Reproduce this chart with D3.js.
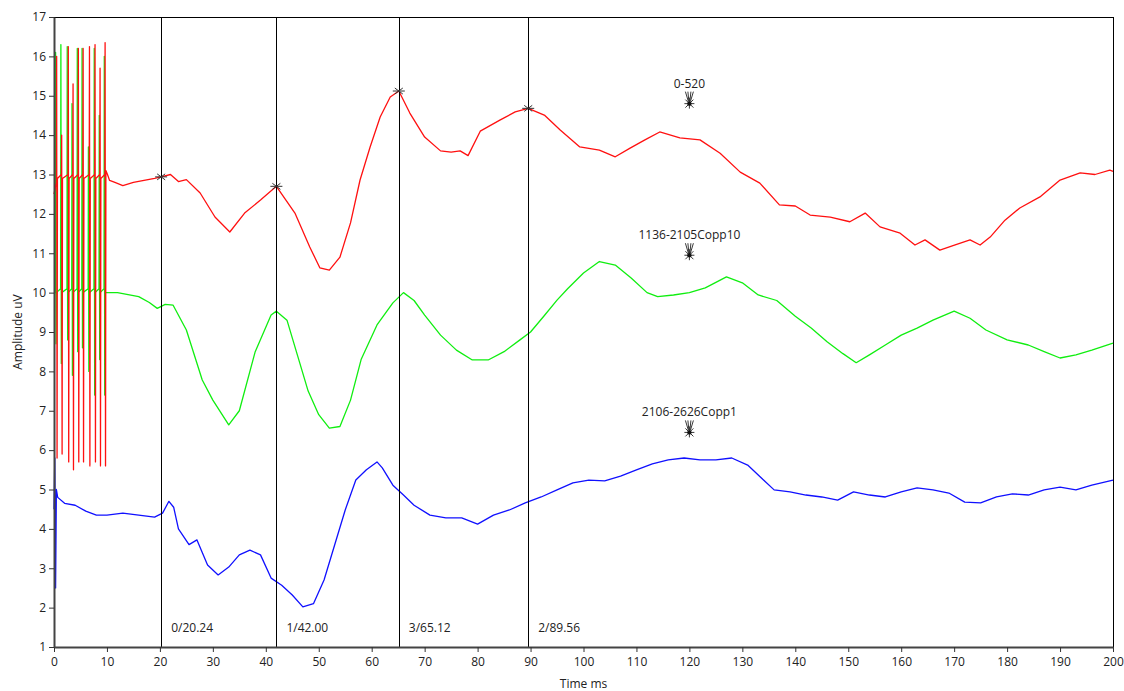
<!DOCTYPE html>
<html>
<head>
<meta charset="utf-8">
<script src="https://cdn.jsdelivr.net/npm/d3@7"></script>
<style>
  html, body { margin: 0; padding: 0; background: #ffffff; }
  #chart { width: 1124px; height: 691px; }
  text { font-family: "Open Sans", "Noto Sans", sans-serif; }
</style>
</head>
<body>
<div id="chart"></div>
<script>
// [time ms, amplitude uV]
const redTrace = [
  [0, 12.5], [0.45, 12.8], [0.5, 16.0], [0.58, 5.8], [0.65, 12.9],
  [1.4, 13.0], [1.45, 14.0], [1.53, 5.9], [1.6, 12.9],
  [2.65, 13.0], [2.7, 16.25], [2.78, 5.7], [2.85, 12.9],
  [3.55, 13.0], [3.6, 15.3], [3.68, 5.5], [3.75, 12.9],
  [4.55, 13.0], [4.6, 16.2], [4.68, 5.7], [4.75, 12.9],
  [5.45, 13.0], [5.5, 16.2], [5.58, 5.7], [5.65, 12.9],
  [6.65, 13.0], [6.7, 16.25], [6.78, 5.6], [6.85, 12.9],
  [7.7, 13.0], [7.75, 16.3], [7.83, 5.7], [7.9, 12.9],
  [8.65, 13.0], [8.7, 15.7], [8.78, 5.6], [8.85, 12.9],
  [9.6, 13.0], [9.65, 16.35], [9.73, 5.6], [9.8, 13.1], [10.1, 13.0],
  [10.5, 12.85], [11.5, 12.8], [13, 12.72], [15, 12.8], [17, 12.85], [19, 12.9], [20.24, 12.94],
  [22, 13.0], [23.5, 12.82], [25, 12.87], [27.6, 12.53], [30.4, 11.92], [33.2, 11.54], [36, 12.02],
  [39, 12.35], [42, 12.7], [45.5, 12.02], [48.3, 11.16], [50.2, 10.63], [52, 10.57], [54, 10.9],
  [56, 11.77], [57.8, 12.86], [59.7, 13.7], [61.6, 14.46], [63.5, 14.97], [65.12, 15.12], [67.2, 14.56],
  [70, 13.95], [73, 13.6], [75, 13.57], [76.7, 13.6], [78.2, 13.48], [80.5, 14.1], [84.2, 14.38],
  [87.1, 14.59], [89.56, 14.68], [92.7, 14.5], [95.6, 14.13], [99.3, 13.7], [103, 13.62], [106, 13.45],
  [108.8, 13.67], [111.6, 13.88], [114.4, 14.08], [118.2, 13.93], [122, 13.88], [125.8, 13.54],
  [129.6, 13.06], [133.3, 12.78], [137, 12.23], [140, 12.2], [142.8, 11.97], [146.6, 11.92],
  [150.3, 11.8], [153.2, 12.02], [156, 11.67], [159.8, 11.51], [162.6, 11.21], [164.5, 11.34],
  [167.3, 11.08], [170.2, 11.21], [173, 11.34], [174.9, 11.21], [176.8, 11.41], [179.6, 11.84],
  [182.4, 12.15], [186.2, 12.43], [190, 12.86], [193.8, 13.04], [196.6, 13.0], [199.4, 13.11], [200, 13.08]
];

const greenTrace = [
  [0, 10.0], [0.25, 10.0], [0.3, 16.1], [0.38, 8.7], [0.45, 10.0],
  [1.25, 10.1], [1.3, 16.3], [1.38, 8.2], [1.45, 10.0],
  [2.45, 10.1], [2.5, 16.25], [2.58, 8.8], [2.65, 10.0],
  [3.35, 10.1], [3.4, 14.8], [3.48, 7.9], [3.55, 10.0],
  [4.35, 10.1], [4.4, 16.2], [4.48, 8.5], [4.55, 10.0],
  [5.25, 10.1], [5.3, 16.2], [5.38, 8.6], [5.45, 10.0],
  [6.45, 10.1], [6.5, 13.7], [6.58, 8.0], [6.65, 10.0],
  [7.55, 10.1], [7.6, 16.2], [7.68, 7.4], [7.75, 10.0],
  [8.5, 10.1], [8.55, 14.5], [8.63, 8.3], [8.7, 10.0],
  [9.45, 10.1], [9.5, 16.0], [9.58, 7.4], [9.65, 10.0],
  [10.5, 10.0], [12, 10.0], [14, 9.95], [16, 9.9], [18, 9.75], [19.5, 9.6], [21, 9.7], [22.5, 9.68],
  [25, 9.05], [28, 7.78], [30, 7.27], [33, 6.64], [35, 7.0], [38, 8.5], [41, 9.43], [42, 9.53],
  [44, 9.3], [46, 8.4], [48, 7.5], [50, 6.9], [52, 6.56], [54, 6.6], [56, 7.27], [58, 8.3], [61, 9.18],
  [64, 9.74], [66, 10.0], [68, 9.8], [70, 9.43], [73, 8.92], [76, 8.54], [79, 8.29], [82, 8.29],
  [85, 8.5], [88, 8.8], [90, 9.0], [92.5, 9.4], [95, 9.81], [97, 10.1], [100, 10.5], [103, 10.79],
  [106, 10.7], [109, 10.37], [112, 10.0], [114, 9.9], [117, 9.94], [120, 10.0], [123, 10.12],
  [127, 10.4], [130, 10.25], [133, 9.94], [136.5, 9.8], [140, 9.4], [143, 9.1], [146, 8.75],
  [149, 8.45], [151.5, 8.22], [154, 8.42], [157, 8.67], [160, 8.92], [163, 9.1], [166, 9.3],
  [170, 9.53], [173, 9.35], [176, 9.05], [180, 8.8], [184, 8.67], [187, 8.5], [190, 8.34],
  [193, 8.42], [196, 8.54], [200, 8.72]
];

const blueTrace = [
  [0, 4.5], [0.15, 5.8], [0.3, 2.5], [0.45, 5.0], [0.7, 4.8], [2, 4.65], [4, 4.6], [6, 4.45],
  [8, 4.35], [10, 4.35], [13, 4.4], [16, 4.35], [19, 4.3], [20.5, 4.4], [21.7, 4.7], [22.6, 4.55],
  [23.5, 4.0], [25.5, 3.6], [27, 3.72], [29, 3.08], [31, 2.83], [33, 3.03], [35, 3.34], [37, 3.46],
  [39, 3.34], [41, 2.75], [43, 2.57], [45, 2.32], [47, 2.02], [49, 2.1], [51, 2.7], [53, 3.59],
  [55, 4.48], [57, 5.24], [59, 5.5], [61, 5.7], [62, 5.55], [64, 5.11], [66, 4.86], [68, 4.6],
  [71, 4.35], [74, 4.28], [77, 4.28], [80, 4.12], [83, 4.35], [86, 4.48], [89, 4.66], [92, 4.81],
  [95, 4.99], [98, 5.17], [101, 5.24], [104, 5.22], [107, 5.34], [110, 5.5], [113, 5.65], [116, 5.75],
  [119, 5.8], [122, 5.75], [125, 5.75], [128, 5.8], [131, 5.62], [134, 5.24], [136, 4.99], [139, 4.94],
  [142, 4.86], [145, 4.81], [148, 4.73], [151, 4.94], [154, 4.86], [157, 4.81], [160, 4.94],
  [163, 5.04], [166, 4.99], [169, 4.91], [172, 4.68], [175, 4.66], [178, 4.81], [181, 4.89],
  [184, 4.86], [187, 4.99], [190, 5.06], [193, 4.99], [196, 5.11], [200, 5.24]
];

const cursorTimes = [20.24, 42.00, 65.12, 89.56];
const cursorLabels = ["0/20.24", "1/42.00", "3/65.12", "2/89.56"];
const cursorValues = [12.94, 12.7, 15.12, 14.68];

const traceLabels = ["0-520", "1136-2105Copp10", "2106-2626Copp1"];
const labelTimes = [120, 120, 120];
const labelValues = [14.8, 10.95, 6.45];

const xTicks = d3.range(0, 201, 10);
const yTicks = d3.range(1, 18, 1);

const width = 1124;
const height = 691;
const margin = { top: 17, right: 11, bottom: 44, left: 54 };
const innerWidth = width - margin.left - margin.right;
const innerHeight = height - margin.top - margin.bottom;

const svg = d3.select("#chart")
  .append("svg")
  .attr("width", width)
  .attr("height", height);

const x = d3.scaleLinear().domain([0, 200]).range([0, innerWidth]);
const y = d3.scaleLinear().domain([1, 17]).range([innerHeight, 0]);

const chart = svg.append("g")
  .attr("transform", `translate(${margin.left}, ${margin.top})`);

// frame
chart.append("rect")
  .attr("x", 0.5)
  .attr("y", 0.5)
  .attr("width", innerWidth)
  .attr("height", innerHeight)
  .attr("fill", "none")
  .attr("stroke", "#000")
  .attr("stroke-width", 1);

const line = d3.line()
  .x(d => x(d[0]))
  .y(d => y(d[1]));

const traces = [
  { data: blueTrace, color: "#1010ff" },
  { data: greenTrace, color: "#10ee10" },
  { data: redTrace, color: "#ff1010" }
];

chart.selectAll("path.trace")
  .data(traces)
  .join("path")
  .attr("class", "trace")
  .attr("d", d => line(d.data))
  .attr("fill", "none")
  .attr("stroke", d => d.color)
  .attr("stroke-width", 1.3)
  .attr("stroke-linejoin", "round");

// cursors
chart.selectAll("line.cursor")
  .data(cursorTimes)
  .join("line")
  .attr("class", "cursor")
  .attr("x1", d => Math.round(x(d)) + 0.5)
  .attr("x2", d => Math.round(x(d)) + 0.5)
  .attr("y1", 0)
  .attr("y2", innerHeight)
  .attr("stroke", "#000")
  .attr("stroke-width", 1);

chart.selectAll("text.cursor-label")
  .data(cursorLabels)
  .join("text")
  .attr("class", "cursor-label")
  .attr("x", (d, i) => x(cursorTimes[i]) + 10)
  .attr("y", innerHeight - 15)
  .attr("font-size", 12)
  .attr("fill", "#222")
  .text(d => d);

// small cross markers where cursors meet the red trace
const crossMarks = chart.selectAll("g.cross")
  .data(cursorTimes)
  .join("g")
  .attr("class", "cross")
  .attr("transform", (d, i) => `translate(${x(d)}, ${y(cursorValues[i])})`);

crossMarks.append("path")
  .attr("d", "M-4,-3L4,3M-4,3L4,-3M-6,0L6,0")
  .attr("stroke", "#333")
  .attr("stroke-width", 1)
  .attr("fill", "none");

// trace name annotations with arrow markers
const annot = chart.selectAll("g.annot")
  .data(traceLabels)
  .join("g")
  .attr("class", "annot")
  .attr("transform", (d, i) => `translate(${x(labelTimes[i])}, ${y(labelValues[i])})`);

annot.append("text")
  .attr("x", 0)
  .attr("y", -16)
  .attr("text-anchor", "middle")
  .attr("font-size", 12)
  .attr("fill", "#222")
  .text(d => d);

annot.append("path")
  .attr("d", "M-4,-12L-1,-2M4,-12L1,-2M-1.5,-12L-0.5,-2M1.5,-12L0.5,-2M-5,0L5,0M-4,4L4,-4M-4,-4L4,4M0,-6L0,5")
  .attr("stroke", "#222")
  .attr("stroke-width", 0.9)
  .attr("fill", "none");

annot.append("circle")
  .attr("r", 2.2)
  .attr("fill", "#111");

// axes
const xAxis = chart.append("g")
  .attr("transform", `translate(0, ${innerHeight})`)
  .call(d3.axisBottom(x).tickValues(xTicks).tickSize(5).tickSizeOuter(0));

const yAxis = chart.append("g")
  .call(d3.axisLeft(y).tickValues(yTicks).tickSize(5).tickSizeOuter(0));

[xAxis, yAxis].forEach(axis => {
  axis.select(".domain")
    .attr("stroke", "#444")
    .attr("stroke-width", 2);
  axis.selectAll(".tick line")
    .attr("stroke", "#333");
  axis.selectAll(".tick text")
    .attr("font-family", "\"Open Sans\", \"Noto Sans\", sans-serif")
    .attr("font-size", 12)
    .attr("fill", "#222");
});

xAxis.selectAll(".tick text").attr("dy", "0.9em");

svg.append("text")
  .attr("transform", `translate(22, ${margin.top + innerHeight / 2}) rotate(-90)`)
  .attr("text-anchor", "middle")
  .attr("font-size", 12)
  .attr("fill", "#222")
  .text("Amplitude uV");

svg.append("text")
  .attr("x", margin.left + innerWidth / 2)
  .attr("y", height - 3)
  .attr("text-anchor", "middle")
  .attr("font-size", 12)
  .attr("fill", "#222")
  .text("Time ms");
</script>
</body>
</html>
